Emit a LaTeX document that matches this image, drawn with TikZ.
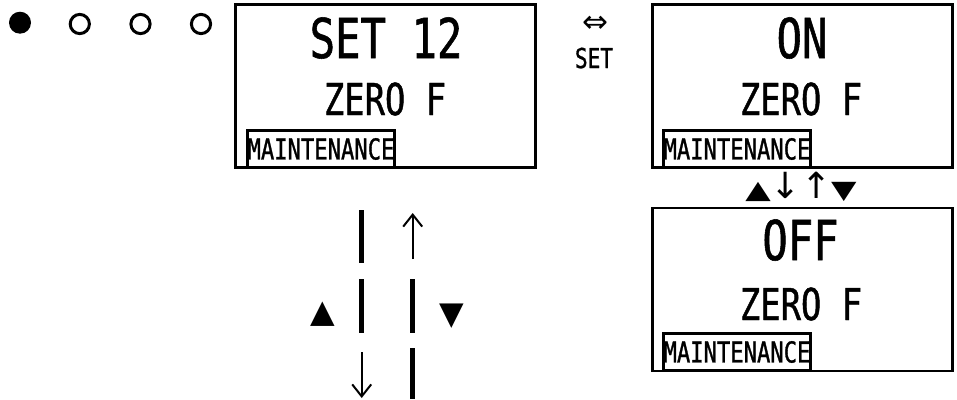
\documentclass[tikz,border=0pt]{standalone}
\usepackage{fontspec}
\usepackage{graphicx}
\usetikzlibrary{arrows.meta}
\newfontfamily\lcd[FakeStretch=0.77,FakeBold=1]{DejaVu Sans Mono}
\newfontfamily\sym{DejaVu Sans}
\newcommand{\flattri}[1]{\scalebox{0.92}[0.7]{#1}}
\begin{document}
\begin{tikzpicture}[x=1pt,y=-1pt,
  panel/.style={draw, line width=2.7pt, inner sep=0pt, minimum width=300.4pt, minimum height=163pt},
  tagbox/.style={draw, line width=2.7pt, inner sep=0pt, minimum width=143.4pt, minimum height=37.4pt,
     font=\lcd\fontsize{28.8}{30}\selectfont},
  bigtxt/.style={anchor=base, inner sep=0pt, font=\lcd\fontsize{54.9}{56}\selectfont},
  midtxt/.style={anchor=base, inner sep=0pt, font=\lcd\fontsize{43.9}{45}\selectfont},
  smalltxt/.style={anchor=base, inner sep=0pt, font=\lcd\fontsize{27.4}{29}\selectfont},
  symtxt/.style={inner sep=0pt, font=\sym\fontsize{32}{34}\selectfont},
  labtxt/.style={anchor=base, inner sep=0pt, font=\sym\fontsize{36}{38}\selectfont},
  eqtxt/.style={inner sep=0pt, font=\sym\fontsize{31}{33}\selectfont},
  barline/.style={line width=5pt},
  thinarrow/.style={line width=2pt, -{Straight Barb[length=12pt,width=19pt]}},
  dotfull/.style={circle, fill=black, inner sep=0pt, minimum size=22pt},
  dotopen/.style={circle, draw=black, line width=3pt, inner sep=0pt, minimum size=19.2pt}]
\useasboundingbox (0,0) rectangle (957,399);

% indicator dots
\node[dotfull] (d1) at (20,22.7) {};
\node[dotopen] (d2) at (79.8,24) {};
\node[dotopen] (d3) at (140.5,24) {};
\node[dotopen] (d4) at (201,24) {};

% panel 1
\node[panel] (p1) at (385.5,86.2) {};
\node[bigtxt] (p1a) at (386,58) {SET 12};
\node[midtxt] (p1b) at (385,115) {ZERO F};
\node[tagbox] (p1c) at (321,149) {MAINTENANCE};

% set toggle
\node[eqtxt] (lr) at (595,24) {⇔};
\node[smalltxt] (setlbl) at (594,68) {SET};

% panel 2
\node[panel] (p2) at (802.5,86.2) {};
\node[bigtxt] (p2a) at (802,58) {ON};
\node[midtxt] (p2b) at (801,115) {ZERO F};
\node[tagbox] (p2c) at (737,149) {MAINTENANCE};

% up/down label
\node[labtxt] (ud) at (801,198) {\flattri{▲}↓↑\flattri{▼}};

% panel 3
\node[panel] (p3) at (802.5,289.5) {};
\node[bigtxt] (p3a) at (800.5,260) {OFF};
\node[midtxt] (p3b) at (801,320) {ZERO F};
\node[tagbox] (p3c) at (737,352) {MAINTENANCE};

% middle navigation arrows
\coordinate (l1) at (361.7,210);
\coordinate (l2) at (361.7,263);
\coordinate (l3) at (361.7,279);
\coordinate (l4) at (361.7,333);
\coordinate (l5) at (361.7,352);
\coordinate (l6) at (361.7,398);
\draw[barline] (l1) -- (l2);
\draw[barline] (l3) -- (l4);
\draw[thinarrow] (l5) -- (l6);

\coordinate (r1) at (412.7,259);
\coordinate (r2) at (412.7,213);
\coordinate (r3) at (412.7,279);
\coordinate (r4) at (412.7,333);
\coordinate (r5) at (412.7,348);
\coordinate (r6) at (412.7,399);
\draw[thinarrow] (r1) -- (r2);
\draw[barline] (r3) -- (r4);
\draw[barline] (r5) -- (r6);

\node[symtxt] (upk) at (323,314.5) {▲};
\node[symtxt] (dnk) at (451.5,316.5) {▼};
\end{tikzpicture}
\end{document}
